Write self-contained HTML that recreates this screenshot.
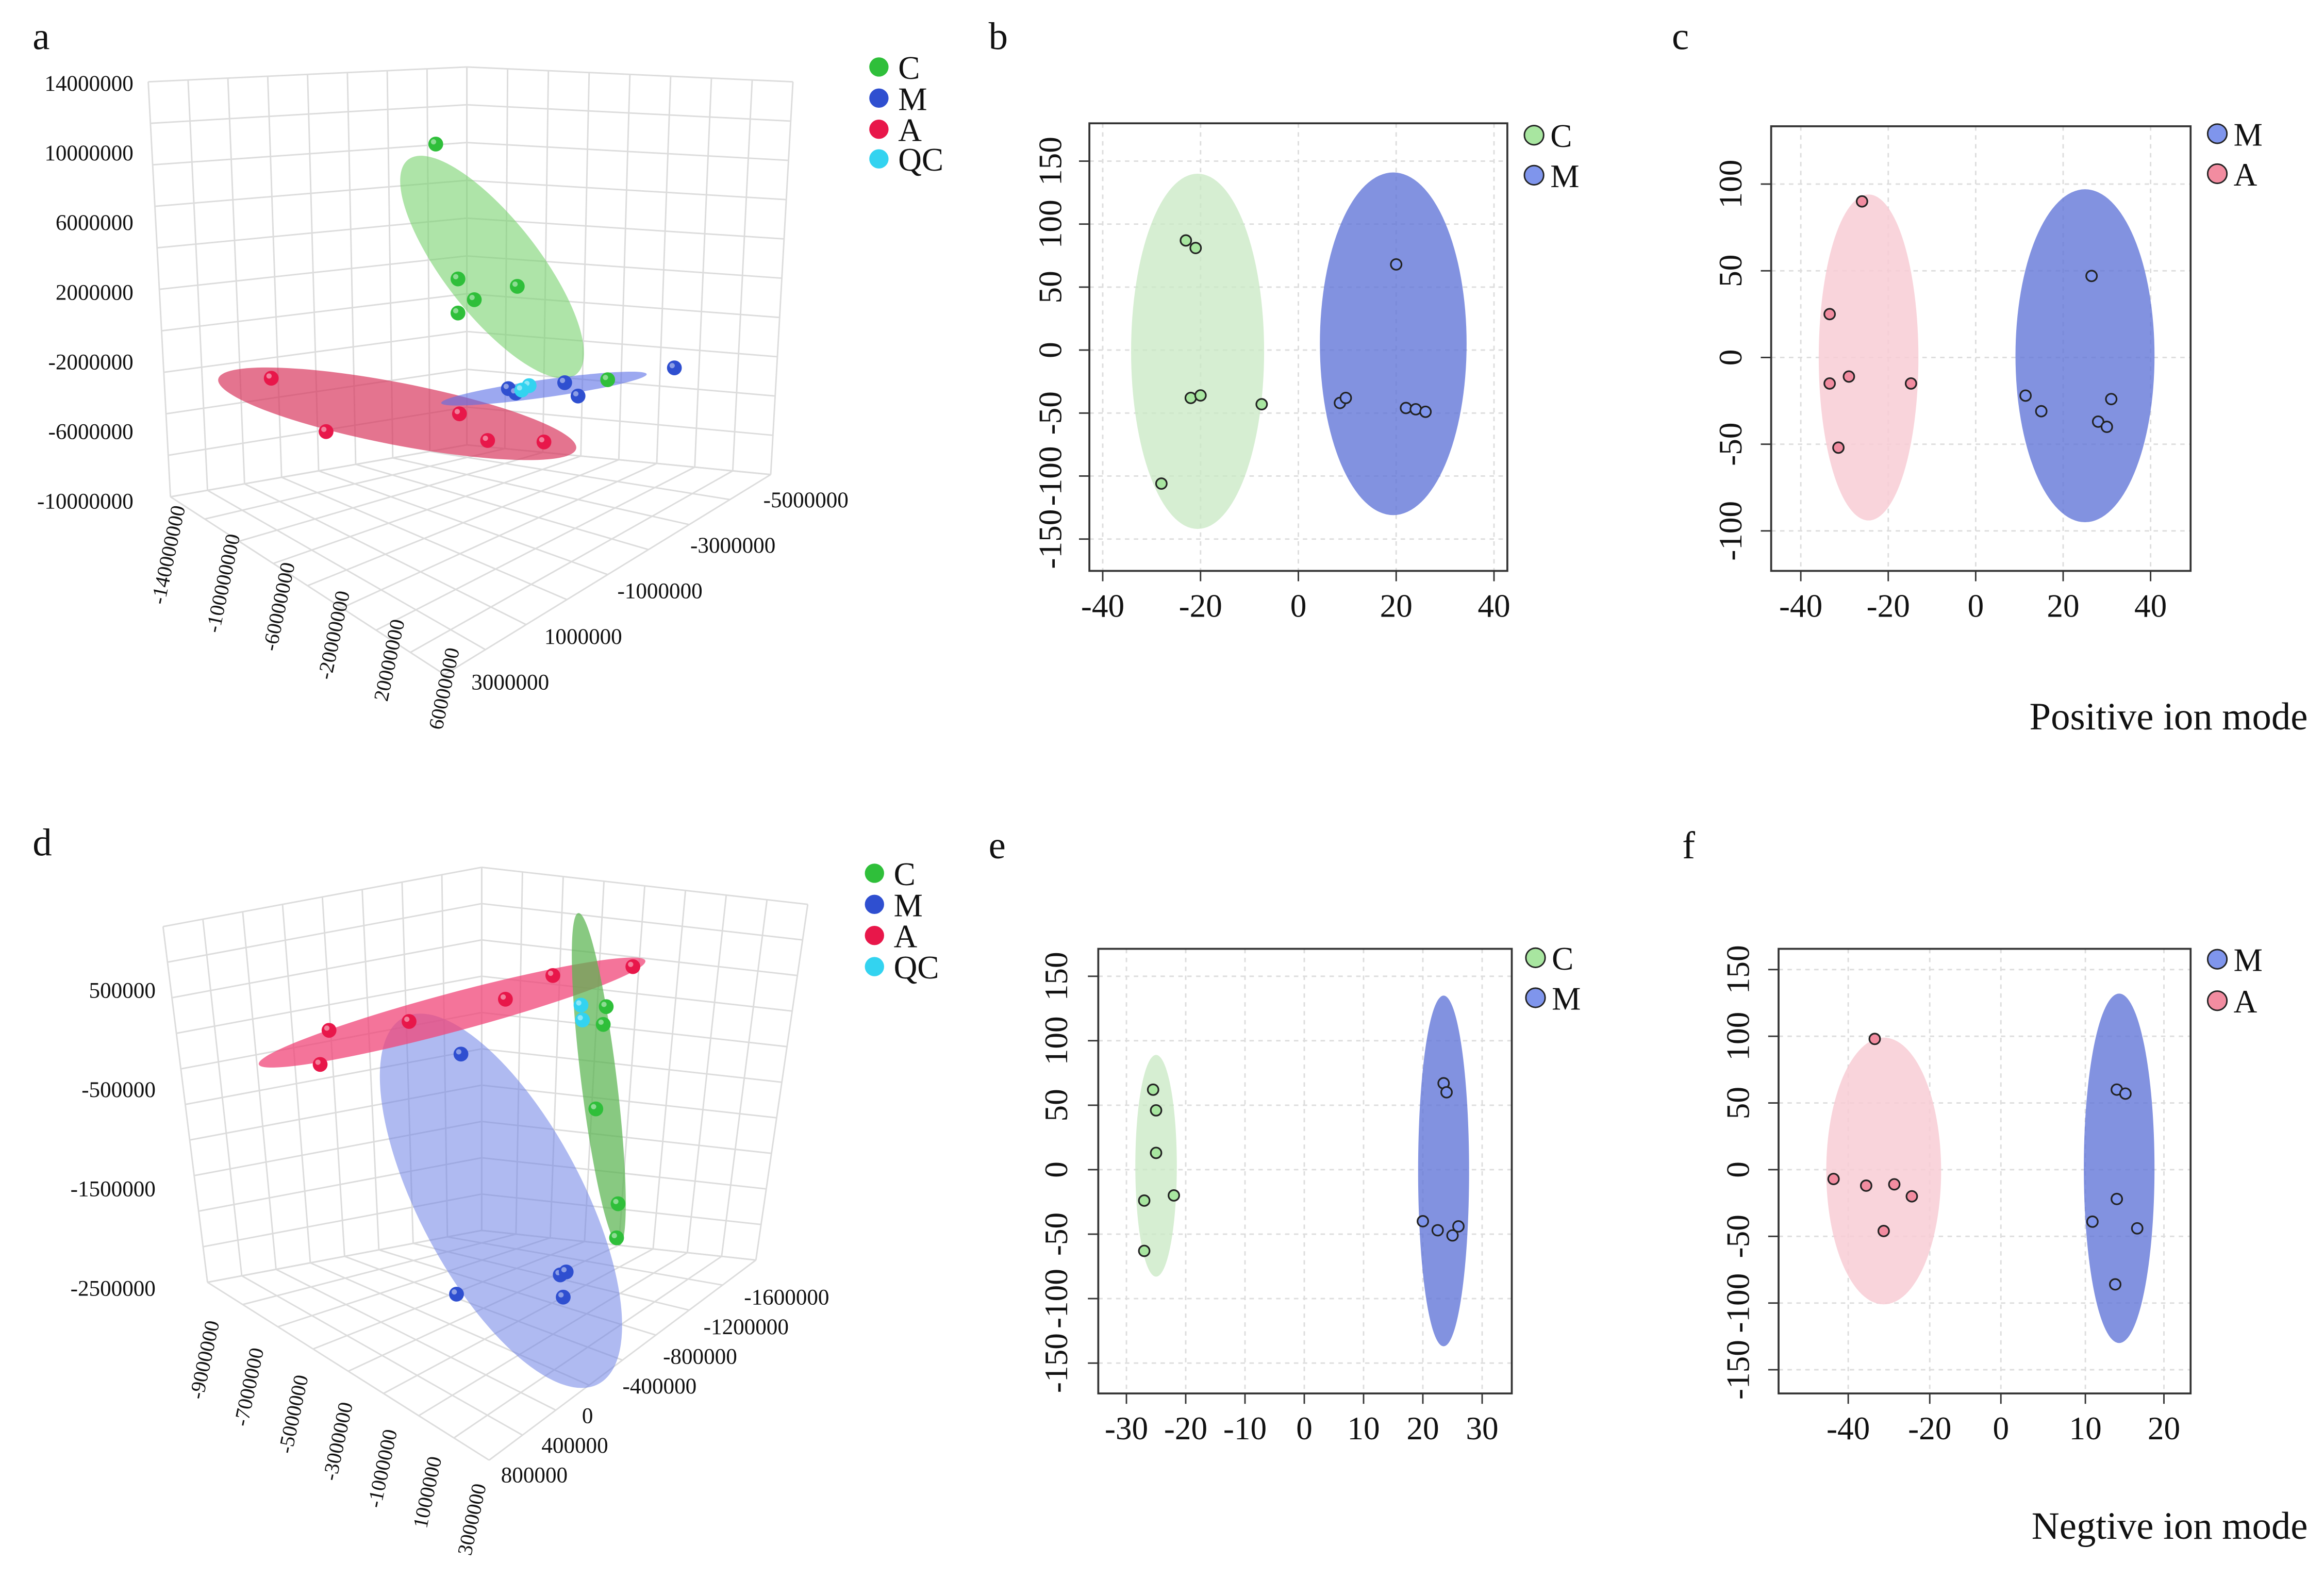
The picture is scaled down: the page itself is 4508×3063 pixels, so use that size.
<!DOCTYPE html>
<html><head><meta charset="utf-8">
<style>
html,body{margin:0;padding:0;background:#fff;}
svg{display:block;}
text{font-family:"Liberation Serif",serif;fill:#111;}
</style></head>
<body>
<svg id="fig" width="4508" height="3063" viewBox="0 0 1568 1065" xmlns="http://www.w3.org/2000/svg">
<rect x="0" y="0" width="1568" height="1065" fill="#fff"/>
<text x="22" y="33" font-size="26">a</text>
<text x="667" y="33" font-size="26">b</text>
<text x="1128" y="33" font-size="26">c</text>
<text x="22" y="577" font-size="26">d</text>
<text x="667" y="579" font-size="26">e</text>
<text x="1135" y="579" font-size="26">f</text>
<text x="1557" y="492" font-size="26" text-anchor="end">Positive ion mode</text>
<text x="1557" y="1038" font-size="26" text-anchor="end">Negtive ion mode</text>
</svg>
<script>
// ===== Panel b data =====
const bXTicks=[-40,-20,0,20,40];
const bYTicks=[-150,-100,-50,0,50,100,150];
const bCx=[-23,-21,-22,-20,-7.5,-28];
const bCy=[87,81,-38,-36,-43,-106];
const bMx=[20,8.5,9.7,22,24,26];
const bMy=[68,-42,-38,-46,-47,-49];
const bEllC=[-20.6,-1,13.6,141];
const bEllM=[19.4,5,15,136];
// ===== Panel c data =====
const cXTicks=[-40,-20,0,20,40];
const cYTicks=[-100,-50,0,50,100];
const cAx=[-26,-33.4,-29,-33.4,-14.8,-31.4];
const cAy=[90,25,-11,-15,-15,-52];
const cMx=[26.5,11.4,15,28,30,31];
const cMy=[47,-22,-31,-37,-40,-24];
const cEllA=[-24.5,0,11.4,94];
const cEllM=[25,1,15.9,96];
// ===== Panel e data =====
const eXTicks=[-30,-20,-10,0,10,20,30];
const eYTicks=[-150,-100,-50,0,50,100,150];
const eCx=[-25.5,-25,-25,-27,-22,-27];
const eCy=[62,46,13,-24,-20,-63];
const eMx=[23.5,24,20,22.5,25,26];
const eMy=[67,60,-40,-47,-51,-44];
const eEllC=[-25,3,3.5,86];
const eEllM=[23.5,-1,4.3,136];
// ===== Panel f data =====
const fXTicks=[-40,-20,0,10,20];
const fYTicks=[-150,-100,-50,0,50,100,150];
const fAx=[-43.6,-33.5,-35.6,-28.7,-24.4,-31.3];
const fAy=[-7,98,-12,-11,-20,-46];
const fMx=[14,15.1,14,10.9,16.6,13.8];
const fMy=[60,57,-22,-39,-44,-86];
const fEllA=[-31.3,-1,14.5,100];
const fEllM=[14.3,1,4.5,131];
// ===== Panel a (3D, projected coords) =====
const aCu=[294,309,320,309,349,410], aCv=[97,188,202,211,193,256];
const aMu=[455,381,390,343,348], aMv=[248,258,267,262,265];
const aQu=[357,352], aQv=[260,263];
const aAu=[183,220,310,329,367], aAv=[255,291,279,297,298];
const aZTicks=["14000000","10000000","6000000","2000000","-2000000","-6000000","-10000000"];
const aXTicks=["-140000000","-100000000","-60000000","-20000000","20000000","60000000"];
const aYTicks=["-5000000","-3000000","-1000000","1000000","3000000"];
// ===== Panel d (3D, projected coords) =====
const dAu=[427,373,341,276,222,216], dAv=[652,658,674,689,695,718];
const dCu=[409,407,402,417,416], dCv=[679,691,748,812,835];
const dQu=[392,393], dQv=[678,688];
const dMu=[311,378,382,380,308], dMv=[711,860,858,875,873];
const dZTicks=["500000","-500000","-1500000","-2500000"];
const dXTicks=["-9000000","-7000000","-5000000","-3000000","-1000000","1000000","3000000"];
const dYTicks=["-1600000","-1200000","-800000","-400000","0","400000","800000"];

const NS="http://www.w3.org/2000/svg";
const svg=document.getElementById('fig');
function mk(tag,attrs,parent){const e=document.createElementNS(NS,tag);for(const k in attrs)e.setAttribute(k,attrs[k]);(parent||svg).appendChild(e);return e;}

function lin(d0,d1,r0,r1){return v=>r0+(v-d0)*(r1-r0)/(d1-d0);}
function pw(dom,rng){return v=>{let i=0;while(i<dom.length-2&&v>dom[i+1])i++;return rng[i]+(v-dom[i])*(rng[i+1]-rng[i])/(dom[i+1]-dom[i]);};}

function panel2d(id,box,sx,sy,xt,yt,ylabX,ellipses,series,legend){
  const g=mk('g',{});
  
  
  xt.forEach(v=>{const l=mk('line',{x1:sx(v),x2:sx(v),y1:box[1],y2:box[3],stroke:'#ddd','stroke-dasharray':'3,3'},g);});
  yt.forEach(v=>{const l=mk('line',{x1:box[0],x2:box[2],y1:sy(v),y2:sy(v),stroke:'#ddd','stroke-dasharray':'3,3'},g);});
  ellipses.forEach(e=>{const el=mk('ellipse',{cx:sx(e.d[0]),cy:sy(e.d[1]),rx:Math.abs(sx(e.d[0]+e.d[2])-sx(e.d[0])),ry:Math.abs(sy(e.d[1]+e.d[3])-sy(e.d[1])),fill:e.c},g);});
  series.forEach(s=>{s.x.forEach((v,i)=>{const c=mk('circle',{cx:sx(v),cy:sy(s.y[i]),r:3.6,fill:s.c,stroke:'#222','stroke-width':1.1},g);});});
  const fr=mk('rect',{x:box[0],y:box[1],width:box[2]-box[0],height:box[3]-box[1],fill:'none',stroke:'#333','stroke-width':1.3},g);
  
  const ay=box[3]+11;
  xt.forEach(v=>{mk('line',{x1:sx(v),x2:sx(v),y1:box[3],y2:box[3]+7,stroke:'#333'},g);const t=mk('text',{x:sx(v),y:ay+20,'font-size':22,'text-anchor':'middle'},g);t.textContent=v;});
  yt.forEach(v=>{mk('line',{x1:box[0]-7,x2:box[0],y1:sy(v),y2:sy(v),stroke:'#333'},g);const t=mk('text',{x:ylabX,y:sy(v),'font-size':22,'text-anchor':'middle',transform:`rotate(-90 ${ylabX} ${sy(v)})`},g);t.textContent=v;});
  legend.forEach(l=>{const c=mk('circle',{cx:l.x,cy:l.y,r:6.5,fill:l.c,stroke:'#222','stroke-width':1},g);const t=mk('text',{x:l.x+11,y:l.y+8,'font-size':22},g);t.textContent=l.t;});
}
const GF='rgba(200,232,195,0.75)', MF='rgba(95,115,215,0.78)', AF='rgba(248,205,213,0.85)';
const GP='#a8e6a0', MP='#7f95ec', AP='#f28ca0';
panel2d('panel-b',[735,83,1017,385],lin(0,20,876,942),lin(0,100,236,151),bXTicks,bYTicks,716,
 [{d:bEllC,c:GF,n:'c-confidence-ellipse'},{d:bEllM,c:MF,n:'m-confidence-ellipse'}],
 [{x:bCx,y:bCy,c:GP,n:'group-c'},{x:bMx,y:bMy,c:MP,n:'group-m'}],
 [{x:1035,y:91,c:GP,t:'C'},{x:1035,y:118,c:MP,t:'M'}]);
panel2d('panel-c',[1195,85,1478,385],lin(0,20,1333,1392),lin(0,100,241,124),cXTicks,cYTicks,1175,
 [{d:cEllA,c:AF,n:'a-confidence-ellipse'},{d:cEllM,c:MF,n:'m-confidence-ellipse'}],
 [{x:cAx,y:cAy,c:AP,n:'group-a'},{x:cMx,y:cMy,c:MP,n:'group-m'}],
 [{x:1496,y:90,c:MP,t:'M'},{x:1496,y:117,c:AP,t:'A'}]);
panel2d('panel-e',[741,640,1020,940],lin(0,10,880,920),lin(0,100,789,702),eXTicks,eYTicks,720,
 [{d:eEllC,c:GF,n:'c-confidence-ellipse'},{d:eEllM,c:MF,n:'m-confidence-ellipse'}],
 [{x:eCx,y:eCy,c:GP,n:'group-c'},{x:eMx,y:eMy,c:MP,n:'group-m'}],
 [{x:1036,y:646,c:GP,t:'C'},{x:1036,y:673,c:MP,t:'M'}]);
panel2d('panel-f',[1200,640,1478,940],pw([-40,-20,0,10,20],[1247,1302,1350,1407,1460]),lin(0,100,789,699),fXTicks,fYTicks,1180,
 [{d:fEllA,c:AF,n:'a-confidence-ellipse'},{d:fEllM,c:MF,n:'m-confidence-ellipse'}],
 [{x:fAx,y:fAy,c:AP,n:'group-a'},{x:fMx,y:fMy,c:MP,n:'group-m'}],
 [{x:1496,y:647,c:MP,t:'M'},{x:1496,y:675,c:AP,t:'A'}]);

function L(p,q,t){return [p[0]+(q[0]-p[0])*t,p[1]+(q[1]-p[1])*t];}
function gridQuad(g,a,b,c,d,n1,n2){
  for(let i=0;i<=n1;i++){const p=L(a,b,i/n1),q=L(d,c,i/n1);mk('line',{x1:p[0],y1:p[1],x2:q[0],y2:q[1],stroke:'#dcdcdc','stroke-width':1},g);}
  for(let j=0;j<=n2;j++){const p=L(a,d,j/n2),q=L(b,c,j/n2);mk('line',{x1:p[0],y1:p[1],x2:q[0],y2:q[1],stroke:'#dcdcdc','stroke-width':1},g);}
}
function panel3d(id,geo,ells,series,zt,zPos,xt,xStart,xEnd,yt,yStart,yEnd,legend){
  const g=mk('g',{});
  
  
  gridQuad(g,geo.lt,geo.ct,geo.cb,geo.lb,8,10);
  gridQuad(g,geo.ct,geo.rt,geo.rb,geo.cb,8,10);
  gridQuad(g,geo.lb,geo.cb,geo.rb,geo.f,8,8);
  ells.forEach(e=>{const el=mk('ellipse',{cx:e[0],cy:e[1],rx:e[2],ry:e[3],transform:`rotate(${e[4]} ${e[0]} ${e[1]})`,fill:e[5]},g);});
  series.forEach(s=>{s.u.forEach((u,i)=>{const c=mk('circle',{cx:u,cy:s.v[i],r:5,fill:s.c},g);mk('circle',{cx:u-1.5,cy:s.v[i]-1.5,r:1.8,fill:'rgba(255,255,255,0.45)'},g);});});
  zt.forEach((t,i)=>{const e=mk('text',{x:zPos[0],y:zPos[1]+i*zPos[2],'font-size':15,'text-anchor':'end'},g);e.textContent=t;});
  xt.forEach((t,i)=>{const p=L(xStart,xEnd,i/(xt.length-1));const e=mk('text',{x:p[0],y:p[1],'font-size':14,'text-anchor':'end',transform:`rotate(-78 ${p[0]} ${p[1]})`},g);e.textContent=t;});
  yt.forEach((t,i)=>{const p=L(yStart,yEnd,i/(yt.length-1));const e=mk('text',{x:p[0],y:p[1],'font-size':15,'text-anchor':'start'},g);e.textContent=t;});
  legend.forEach(l=>{const c=mk('circle',{cx:l.x,cy:l.y,r:6.5,fill:l.c},g);const e=mk('text',{x:l.x+13,y:l.y+8,'font-size':22},g);e.textContent=l.t;});
}
const G3='#2fbf3a', B3='#2f4fd0', R3='#e8174a', Q3='#33d3f0';
panel3d('panel-a',{lt:[100,55],ct:[315,45],rt:[535,55],lb:[115,335],cb:[315,300],rb:[520,320],f:[300,455]},
 [[332,180,92,32,52,'rgba(120,210,110,0.6)'],[268,279,123,21,11,'rgba(215,50,90,0.68)'],[367,262,70,6,-8,'rgba(90,110,230,0.6)']],
 [{u:aCu,v:aCv,c:G3,n:'group-c'},{u:aAu,v:aAv,c:R3,n:'group-a'},{u:aMu,v:aMv,c:B3,n:'group-m'},{u:aQu,v:aQv,c:Q3,n:'group-qc'}],
 aZTicks,[90,61,47],aXTicks,[125,342],[310,438],aYTicks,[515,342],[318,465],
 [{x:593,y:45,c:G3,t:'C'},{x:593,y:66,c:B3,t:'M'},{x:593,y:87,c:R3,t:'A'},{x:593,y:107,c:Q3,t:'QC'}]);
panel3d('panel-d',{lt:[110,625],ct:[325,585],rt:[545,610],lb:[140,865],cb:[325,830],rb:[510,850],f:[330,985]},
 [[338,810,140,55,62,'rgba(110,130,230,0.55)'],[305,683,135,13,-15,'rgba(240,70,120,0.75)'],[404,728,113,12,83,'rgba(90,180,80,0.72)']],
 [{u:dMu,v:dMv,c:B3,n:'group-m'},{u:dAu,v:dAv,c:R3,n:'group-a'},{u:dCu,v:dCv,c:G3,n:'group-c'},{u:dQu,v:dQv,c:Q3,n:'group-qc'}],
 dZTicks,[105,673,67],dXTicks,[148,892],[328,1002],dYTicks,[502,880],[338,1000],
 [{x:590,y:589,c:G3,t:'C'},{x:590,y:610,c:B3,t:'M'},{x:590,y:631,c:R3,t:'A'},{x:590,y:652,c:Q3,t:'QC'}]);
</script>
</body></html>
